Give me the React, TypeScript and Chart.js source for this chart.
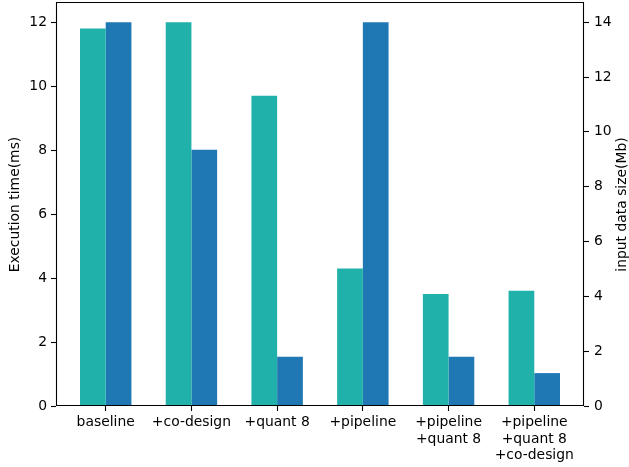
import React, { useEffect, useRef } from "react";
import { Chart, registerables } from "chart.js";

Chart.register(...registerables);

const categories: string[][] = [
  ["baseline"],
  ["+co-design"],
  ["+quant 8"],
  ["+pipeline"],
  ["+pipeline", "+quant 8"],
  ["+pipeline", "+quant 8", "+co-design"],
];
const executionTime: number[] = [11.8, 12.0, 9.7, 4.3, 3.5, 3.6];
const inputDataSize: number[] = [14.0, 9.35, 1.8, 14.0, 1.8, 1.2];
const leftTicks: number[] = [0, 2, 4, 6, 8, 10, 12];
const rightTicks: number[] = [0, 2, 4, 6, 8, 10, 12, 14];
const leftTitle = "Execution time(ms)";
const rightTitle = "input data size(Mb)";

const FONT = "DejaVu Sans";
const FS = 13.9;

export default function App() {
  const ref = useRef<HTMLCanvasElement | null>(null);

  useEffect(() => {
    if (!ref.current) return;
    const framePlugin = {
      id: "frame",
      afterDraw(chart: any) {
        const { ctx, chartArea } = chart;
        const { left, right, top, bottom } = chartArea;
        ctx.save();
        ctx.strokeStyle = "#000";
        ctx.lineWidth = 1.1;
        ctx.beginPath();
        ctx.rect(left + 0.5, top - 0.5, right - left - 1, bottom - top);
        ctx.stroke();
        ctx.fillStyle = "#000";
        ctx.font = `${FS}px "${FONT}"`;
        ctx.textAlign = "center";
        ctx.textBaseline = "middle";
        ctx.translate(622, (top + bottom) / 2);
        ctx.rotate(-Math.PI / 2);
        ctx.fillText(rightTitle, 0, 0);
        ctx.restore();
      },
    };

    const tickGrid = {
      display: true,
      offset: false,
      drawOnChartArea: false,
      drawTicks: true,
      tickLength: 5,
      tickColor: "#000",
      tickWidth: 1.1,
    };

    const chart = new Chart(ref.current, {
      type: "bar",
      data: {
        datasets: [
          {
            label: leftTitle,
            data: executionTime.map((v, i) => ({ x: i, y: v })),
            backgroundColor: "#20b2aa",
            borderWidth: 0,
            yAxisID: "y",
          },
          {
            label: rightTitle,
            data: inputDataSize.map((v, i) => ({ x: i, y: v })),
            backgroundColor: "#1f77b4",
            borderWidth: 0,
            yAxisID: "y1",
          },
        ],
      },
      options: {
        animation: false,
        responsive: false,
        maintainAspectRatio: false,
        layout: { padding: { top: 3, left: 0, right: 0, bottom: 0 } },
        datasets: { bar: { categoryPercentage: 0.6, barPercentage: 1.0 } },
        plugins: {
          legend: { display: false },
          tooltip: { enabled: false },
        },
        scales: {
          x: {
            type: "linear",
            offset: false,
            min: -0.58,
            max: 5.58,
            afterBuildTicks: (scale: any) => {
              scale.ticks = categories.map((_, i) => ({ value: i }));
            },
            afterFit: (scale: any) => {
              scale.height = 61;
              scale.paddingLeft = 0;
              scale.paddingRight = 0;
            },
            ticks: {
              autoSkip: false,
              maxRotation: 0,
              minRotation: 0,
              padding: 3,
              color: "#000",
              font: { family: FONT, size: FS, lineHeight: 1.2 },
              callback: (value: any) => {
                const c = categories[Math.round(Number(value))];
                return c ? c : "";
              },
            },
            grid: tickGrid,
            border: { display: false },
          },
          y: {
            type: "linear",
            position: "left",
            min: 0,
            max: 12.6,
            afterBuildTicks: (scale: any) => {
              scale.ticks = leftTicks.map((v) => ({ value: v }));
            },
            afterFit: (scale: any) => {
              scale.width = 56;
              scale.paddingTop = 0;
              scale.paddingBottom = 0;
            },
            ticks: {
              padding: 4,
              color: "#000",
              font: { family: FONT, size: FS },
            },
            title: {
              display: true,
              text: leftTitle,
              color: "#000",
              font: { family: FONT, size: FS, lineHeight: 1 },
              padding: { top: 8, bottom: 0 },
            },
            grid: tickGrid,
            border: { display: false },
          },
          y1: {
            type: "linear",
            position: "right",
            min: 0,
            max: 14.7,
            afterBuildTicks: (scale: any) => {
              scale.ticks = rightTicks.map((v) => ({ value: v }));
            },
            afterFit: (scale: any) => {
              scale.width = 45;
              scale.paddingTop = 0;
              scale.paddingBottom = 0;
            },
            ticks: {
              padding: 5,
              color: "#000",
              font: { family: FONT, size: FS },
            },
            grid: tickGrid,
            border: { display: false },
          },
        },
      } as any,
      plugins: [framePlugin],
    });
    return () => chart.destroy();
  }, []);

  return (
    <div style={{ position: "absolute", left: 0, top: 0, width: 629, height: 467 }}>
      <canvas ref={ref} width={629} height={467} style={{ width: 629, height: 467 }} />
    </div>
  );
}
